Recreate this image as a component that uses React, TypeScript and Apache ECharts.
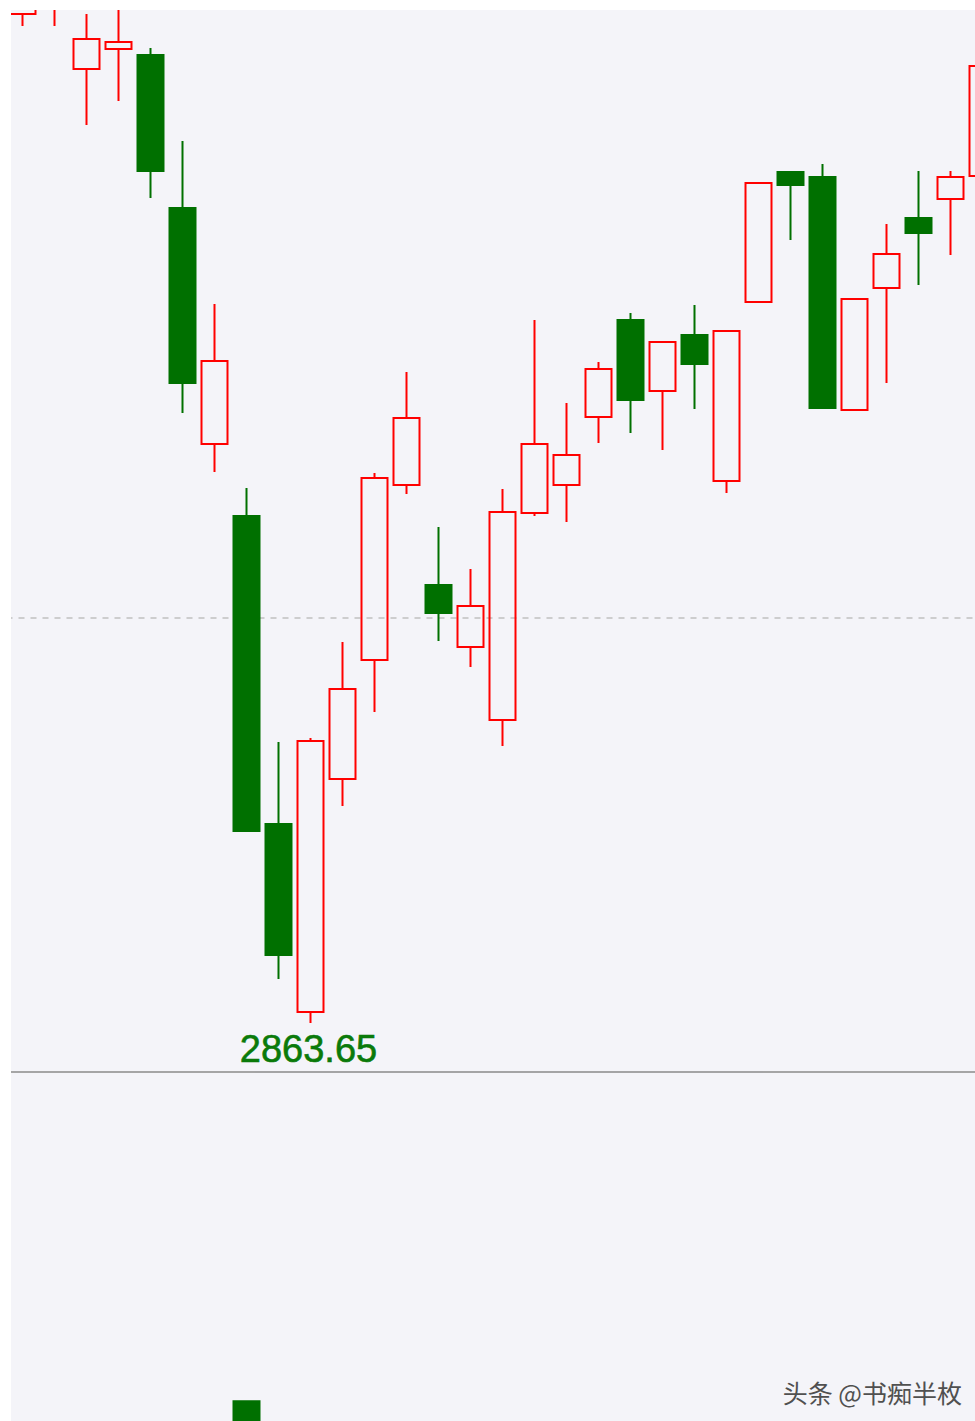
import React, { useEffect, useRef } from "react";
import * as echarts from "echarts";

// Trading days shown (Shanghai Composite, Apr–May 2022)
const dates = [
  "2022-04-14", "2022-04-15", "2022-04-18", "2022-04-19", "2022-04-20", "2022-04-21", "2022-04-22",
  "2022-04-25", "2022-04-26", "2022-04-27", "2022-04-28", "2022-04-29",
  "2022-05-05", "2022-05-06", "2022-05-09", "2022-05-10", "2022-05-11", "2022-05-12", "2022-05-13",
  "2022-05-16", "2022-05-17", "2022-05-18", "2022-05-19", "2022-05-20",
  "2022-05-23", "2022-05-24", "2022-05-25", "2022-05-26", "2022-05-27", "2022-05-30", "2022-05-31",
];

const opens = [
  3203.49, 3207.0, 3184.97, 3191.7, 3189.68, 3138.15, 3058.66,
  3034.41, 2930.68, 2867.35, 2945.83, 2985.91,
  3044.85, 3011.17, 2990.29, 2965.7, 3035.42, 3044.85, 3067.76,
  3100.43, 3076.51, 3095.38, 3046.2, 3106.49,
  3150.28, 3148.59, 3070.11, 3111.21, 3134.78, 3141.18, 3148.93,
];

const closes = [
  3225.6, 3212.0, 3195.07, 3194.06, 3150.61, 3079.21, 3086.62,
  2928.32, 2886.55, 2958.63, 2976.14, 3047.21,
  3067.42, 3001.74, 3004.1, 3035.76, 3058.66, 3054.96, 3083.92,
  3073.48, 3093.02, 3085.61, 3096.72, 3146.57,
  3145.9, 3070.79, 3107.5, 3122.66, 3129.73, 3148.59, 3185.98,
];

const lows = [
  3199.45, 3199.45, 3166.1, 3174.19, 3141.52, 3069.1, 3049.23,
  2928.32, 2878.47, 2863.65, 2936.74, 2968.4,
  3041.82, 2992.31, 2983.55, 2956.95, 3034.41, 3032.39, 3059.0,
  3062.37, 3056.64, 3070.45, 3042.16, 3106.49,
  3127.37, 3070.79, 3070.11, 3079.21, 3112.22, 3122.32, 3145.0,
];

const highs = [
  3235.0, 3218.0, 3203.49, 3210.0, 3192.04, 3160.72, 3105.82,
  3043.84, 2958.29, 2959.64, 2991.97, 3048.9,
  3082.91, 3030.71, 3016.56, 3043.51, 3100.43, 3072.47, 3086.28,
  3102.79, 3093.02, 3105.48, 3096.72, 3146.57,
  3150.28, 3152.97, 3107.5, 3132.76, 3150.61, 3150.61, 3190.0,
];

// Only one volume bar reaches into the visible part of the lower panel
const volumes: (number | null)[] = [
  null, null, null, null, null, null, null,
  6, null, null, null, null,
  null, null, null, null, null, null, null,
  null, null, null, null, null,
  null, null, null, null, null, null, null,
];

const lowLabelIndex = 9;
const lowLabelValue = 2863.65;
const refLevel = 3000;
const priceMin = 2847.15;
const priceMax = 3204.84;
const volumeMax = 100;
const watermark = "头条 @书痴半枚";

const RED = "#ff0000";
const GREEN = "#007000";
const BG = "#f4f4f9";

export default function App() {
  const ref = useRef<HTMLDivElement>(null);

  useEffect(() => {
    if (!ref.current) return;
    const chart = echarts.init(ref.current, undefined, { renderer: "svg" });
    const candles = dates.map((_, i) => [opens[i], closes[i], lows[i], highs[i]]);

    chart.setOption({
      animation: false,
      backgroundColor: BG,
      grid: [
        { left: 6.5, width: 992, top: 10, height: 1062 },
        { left: 6.5, width: 992, top: 1075, height: 346 },
      ],
      xAxis: [
        {
          type: "category",
          gridIndex: 0,
          data: dates,
          boundaryGap: true,
          axisLabel: { show: false },
          axisTick: { show: false },
          splitLine: { show: false },
          axisLine: { show: true, onZero: false, lineStyle: { color: "#8a8a8a", width: 1.5 } },
        },
        {
          type: "category",
          gridIndex: 1,
          data: dates,
          boundaryGap: true,
          show: false,
        },
      ],
      yAxis: [
        {
          type: "value",
          gridIndex: 0,
          min: priceMin,
          max: priceMax,
          show: false,
          splitLine: { show: false },
        },
        {
          type: "value",
          gridIndex: 1,
          min: 0,
          max: volumeMax,
          show: false,
          splitLine: { show: false },
        },
      ],
      series: [
        {
          type: "candlestick",
          xAxisIndex: 0,
          yAxisIndex: 0,
          z: 3,
          data: candles,
          barWidth: 26,
          clip: true,
          itemStyle: {
            color: "rgba(0,0,0,0)",
            color0: GREEN,
            borderColor: RED,
            borderColor0: GREEN,
            borderWidth: 2,
          },
          markLine: {
            silent: true,
            z: 1,
            symbol: "none",
            label: { show: false },
            lineStyle: { color: "#c0c0c0", type: [6, 6], width: 1.5 },
            data: [{ yAxis: refLevel }],
          },
          markPoint: {
            silent: true,
            symbol: "circle",
            symbolSize: 1,
            itemStyle: { color: "rgba(0,0,0,0)" },
            label: {
              show: true,
              position: "inside",
              offset: [-2, 26],
              formatter: (p: any) => Number(p.value).toFixed(2),
              fontSize: 38,
              fontFamily: "'Liberation Sans', Arial, sans-serif",
              color: "#0a7a0a",
              textBorderColor: "#0a7a0a",
              textBorderWidth: 0.6,
            },
            data: [{ coord: [dates[lowLabelIndex], lowLabelValue], value: lowLabelValue }],
          },
        },
        {
          type: "bar",
          xAxisIndex: 1,
          yAxisIndex: 1,
          data: volumes,
          barWidth: 28,
          itemStyle: { color: GREEN },
        },
      ],
      graphic: [
        { type: "rect", z: 100, shape: { x: 0, y: 0, width: 11, height: 1421 }, style: { fill: "#ffffff" } },
        { type: "rect", z: 100, shape: { x: 0, y: 0, width: 1010, height: 10 }, style: { fill: "#ffffff" } },
        {
          type: "text",
          z: 100,
          x: 962,
          y: 1392,
          style: {
            text: watermark,
            fill: "#505050",
            font: "25px 'Noto Sans CJK SC', sans-serif",
            align: "right",
            verticalAlign: "middle",
          },
        },
      ],
    });

    return () => chart.dispose();
  }, []);

  return (
    <div
      ref={ref}
      style={{ position: "fixed", left: 0, top: 0, width: 1010, height: 1421 }}
    />
  );
}
